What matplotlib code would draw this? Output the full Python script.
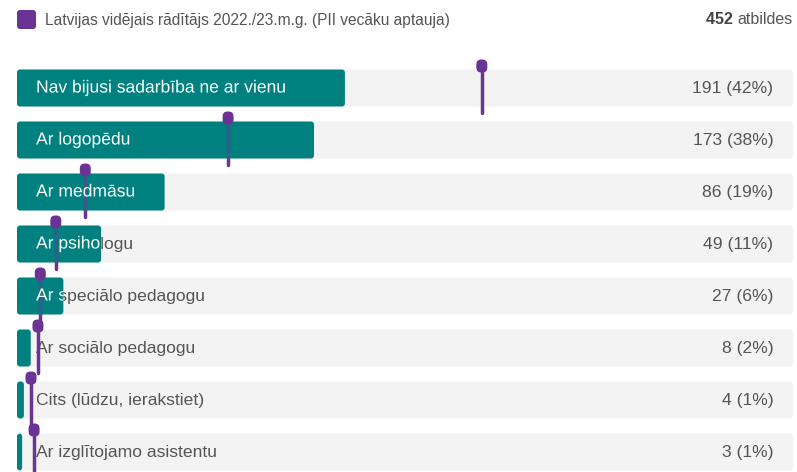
import matplotlib
matplotlib.use("Agg")
import matplotlib.pyplot as plt
import matplotlib.patheffects as pe
from matplotlib.patches import FancyBboxPatch

plt.rcParams['font.family'] = ['Liberation Sans', 'DejaVu Sans']

categories = ["Nav bijusi sadarbība ne ar vienu", "Ar logopēdu", "Ar medmāsu",
              "Ar psihologu", "Ar speciālo pedagogu", "Ar sociālo pedagogu",
              "Cits (lūdzu, ierakstiet)", "Ar izglītojamo asistentu"]
counts = [191, 173, 86, 49, 27, 8, 4, 3]
total = 452
# national average (%) per answer
national = [59.9, 27.2, 8.8, 5.0, 3.0, 2.7, 1.8, 2.2]
legend_label = "Latvijas vidējais rādītājs 2022./23.m.g. (PII vecāku aptauja)"

TEAL = "#00807F"
PURPLE = "#6B3494"
MIXED = "#3A5A8A"
BG = "#F3F3F3"
TXT = "#555555"

W, H = 797, 472
fig = plt.figure(figsize=(W / 100, H / 100), dpi=100)

# axes: x in percent over the track width, y in row units (52 px pitch)
left_px, track_px = 17, 776
pitch, first = 52.0, 88.0
ax = fig.add_axes([left_px / W, 0, track_px / W, 1])
ax.set_xlim(0, 100)
ax.set_ylim((H - first) / pitch, -first / pitch)
ax.axis("off")

px_x = 100 / track_px      # percent per pixel
px_y = 1 / pitch           # row units per pixel
aspect = px_y / px_x
bar_h = 37 * px_y
rnd = 3 * px_x
fs = 12.6

for i, (cat, c, nat) in enumerate(zip(categories, counts, national)):
    share = c / total * 100
    top = i - bar_h / 2
    bg = FancyBboxPatch((0, top), 100, bar_h, boxstyle=f"round,pad=0,rounding_size={rnd}",
                        mutation_aspect=aspect, fc=BG, ec="none", zorder=1)
    ax.add_patch(bg)
    bar = FancyBboxPatch((0, top), share, bar_h, boxstyle=f"round,pad=0,rounding_size={rnd}",
                         mutation_aspect=aspect, fc=TEAL, ec="none", zorder=3)
    ax.add_patch(bar)

    # category label: grey on the track, white where the bar covers it
    ax.annotate(cat, (0, i), xytext=(13.7, 0), textcoords="offset points",
                ha="left", va="center", fontsize=fs, color=TXT, zorder=2)
    wt = ax.annotate(cat, (0, i), xytext=(13.7, 0), textcoords="offset points",
                     ha="left", va="center", fontsize=fs, color="white", zorder=4,
                     path_effects=[pe.Normal()])
    wt.set_clip_path(bar)

    ax.annotate(f"{c} ({round(share)}%)", (100, i), xytext=(-14, 0),
                textcoords="offset points", ha="right", va="center",
                fontsize=fs, color=TXT, zorder=2)

    # national average pin
    head_c = top - 3.5 * px_y
    y_end = top + bar_h + 6 * px_y
    ax.plot([nat, nat], [head_c, y_end], color=PURPLE, lw=2.5,
            solid_capstyle="round", zorder=2.5)
    ln, = ax.plot([nat, nat], [head_c, y_end], color=MIXED, lw=2.5, zorder=3.5)
    ln.set_clip_path(bar)
    hw, hh = 11 * px_x, 13 * px_y
    head = FancyBboxPatch((nat - hw / 2, head_c - hh / 2), hw, hh,
                          boxstyle=f"round,pad=0,rounding_size={5 * px_x}",
                          mutation_aspect=aspect, fc=PURPLE, ec="none", zorder=5)
    ax.add_patch(head)

# legend
sq = FancyBboxPatch((17 / W, 1 - 29 / H), 19 / W, 19 / H,
                    boxstyle=f"round,pad=0,rounding_size={3 / W}",
                    mutation_aspect=W / H, transform=fig.transFigure,
                    fc=PURPLE, ec="none")
fig.patches.append(sq)
fig.text(45 / W, 1 - 20 / H, legend_label, ha="left", va="center",
         fontsize=11.2, color=TXT)

t = fig.text(793 / W, 1 - 20 / H, "atbildes", ha="right", va="center",
             fontsize=11.5, color=TXT)
ax.annotate(f"{total} ", (0, 0.5), xycoords=t, ha="right", va="center",
            fontsize=11.5, color="#444444", fontweight="bold")

fig.savefig("out.png", dpi=100)
